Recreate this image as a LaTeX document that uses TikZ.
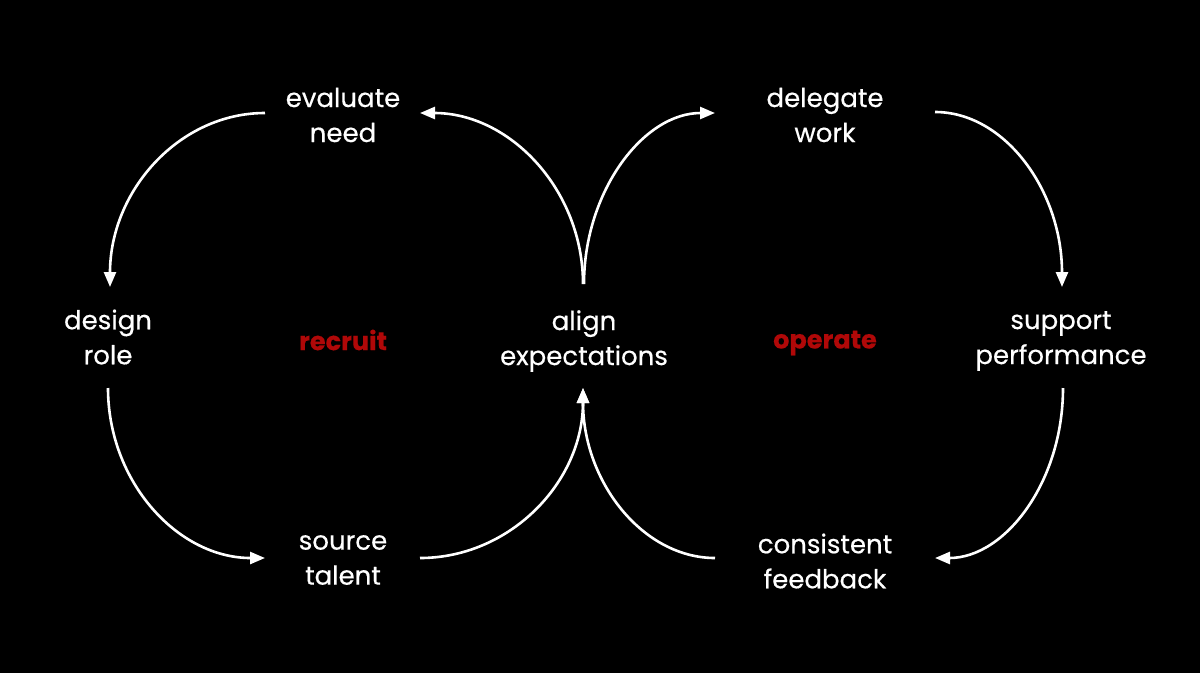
\documentclass[tikz,border=0pt]{standalone}
\usepackage{fontspec}
\setmainfont{Poppins}[FakeBold=0.4]
\usetikzlibrary{arrows.meta}
\definecolor{accent}{RGB}{176,8,8}
\tikzset{
  lbl/.style={text=white, align=center, inner sep=0pt, font=\fontsize{26}{35}\selectfont},
  hub/.style={text=accent, inner sep=0pt, font=\fontsize{25.5}{35}\selectfont\bfseries},
  arr/.style={draw=white, line width=2.6pt, -{Triangle[length=15pt,width=12pt]}},
}
\begin{document}
\begin{tikzpicture}[x=1pt,y=-1pt]
\fill[black] (0,0) rectangle (1200,673);
\useasboundingbox (0,0) rectangle (1200,673);
\node[lbl] (eval)    at (343,115) {evaluate\\need};
\node[lbl] (deleg)   at (825,115) {delegate\\work};
\node[lbl] (design)  at (108,337) {design\\role};
\node[lbl] (align)   at (584,341) {align\\expectations};
\node[lbl] (support) at (1061,341) {support\\performance};
\node[lbl] (source)  at (343,560) {source\\talent};
\node[lbl] (consist) at (825,561) {consistent\\feedback};
\node[hub] (recruit) at (343,340) {recruit};
\node[hub] (operate) at (825,343) {operate};
% recruit loop
\draw[arr] ([shift={(-1,-57)}]align.center) .. controls +(0,-94) and +(90,0) .. ([shift={(77,-2)}]eval.center);
\draw[arr] ([shift={(-78,-2)}]eval.center) .. controls +(-86,0) and +(0,-96) .. ([shift={(2,-50)}]design.center);
\draw[arr] ([shift={(0,51)}]design.center) .. controls +(0,94) and +(-87,0) .. ([shift={(-78,-2)}]source.center);
\draw[arr] ([shift={(77,-2)}]source.center) .. controls +(90,0) and +(0,94) .. ([shift={(-1,47)}]align.center);
% operate loop
\draw[arr] ([shift={(-110,-3)}]consist.center) .. controls +(-72,0) and +(0,94) .. ([shift={(-1,47)}]align.center);
\draw[arr] ([shift={(0,-57)}]align.center) .. controls +(0,-92) and +(-72,0) .. ([shift={(-110,-2)}]deleg.center);
\draw[arr] ([shift={(110,-3)}]deleg.center) .. controls +(70,0) and +(0,-96) .. ([shift={(1,-54)}]support.center);
\draw[arr] ([shift={(2,47)}]support.center) .. controls +(0,94) and +(70,0) .. ([shift={(110,-3)}]consist.center);
\end{tikzpicture}
\end{document}
